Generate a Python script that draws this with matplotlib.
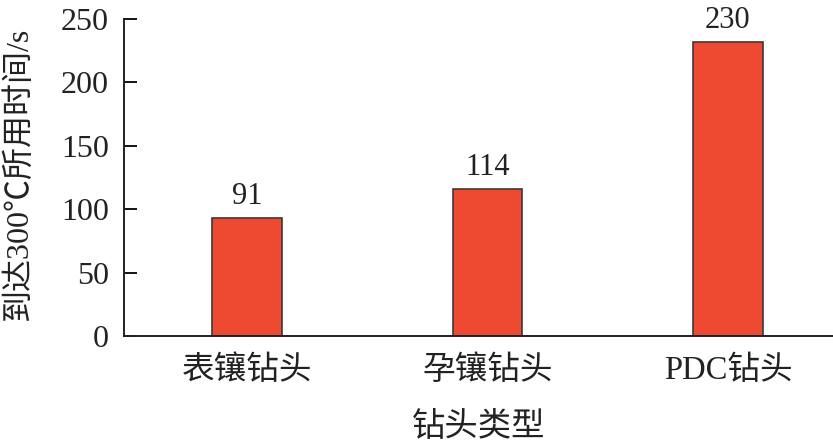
import matplotlib
matplotlib.use("Agg")
import matplotlib.pyplot as plt

categories = ["表镶钻头", "孕镶钻头", "PDC钻头"]
bar_heights = [93, 116, 232]
value_labels = ["91", "114", "230"]
yticks = [0, 50, 100, 150, 200, 250]

fam = ["Liberation Serif", "Noto Sans CJK SC"]
plt.rcParams["font.family"] = fam

fig = plt.figure(figsize=(8.33, 4.44), dpi=100)
ax = fig.add_axes([0.1489, 0.2432, 0.8511, 0.7140])

x = list(range(len(categories)))
bars = ax.bar(x, bar_heights, width=0.29, color="#EE4A32", edgecolor="#3a3a3a", linewidth=1.2, zorder=2)
for xi, h, lab in zip(x, bar_heights, value_labels):
    ax.annotate(lab, (xi, h), xytext=(0, 5), textcoords="offset points",
                ha="center", va="bottom", fontsize=22, color="#222222", clip_on=False)

ax.set_xlim(-0.511, 2.437)
ax.set_ylim(0, 250)
ax.set_yticks(yticks)
ax.set_xticks(x)
ax.set_xticklabels(categories, fontsize=23.5, color="#222222")
ax.tick_params(axis="y", direction="in", length=9, width=1.3, pad=11, labelsize=23, labelcolor="#222222")
ax.tick_params(axis="x", length=0, pad=14)
for s in ["top", "right"]:
    ax.spines[s].set_visible(False)
for s in ["left", "bottom"]:
    ax.spines[s].set_linewidth(1.4)
    ax.spines[s].set_color("#222222")

ax.set_ylabel("到达300℃所用时间/s", fontsize=23, color="#222222")
ax.yaxis.set_label_coords(-0.127, 0.51)
ax.set_xlabel("钻头类型", fontsize=24, color="#222222")
ax.xaxis.set_label_coords(0.5, -0.288)
ax.xaxis.label.set_va("center")

fig.savefig("out.png", dpi=100)
